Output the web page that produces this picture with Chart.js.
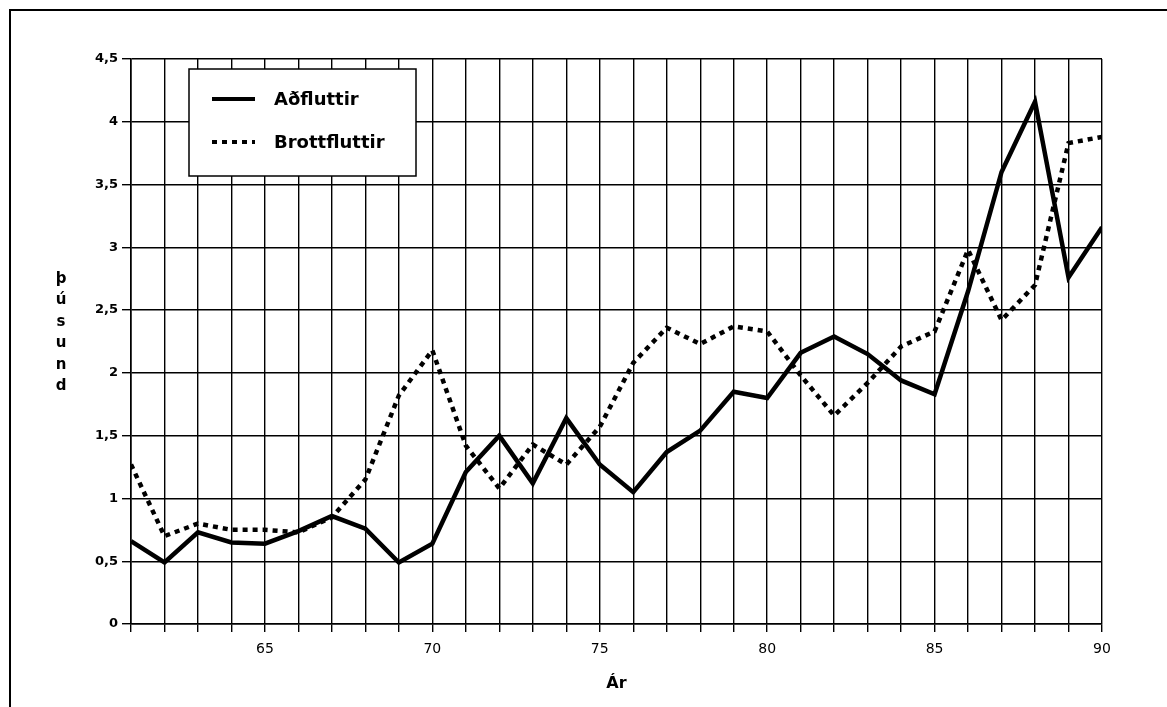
<!DOCTYPE html>
<html lang="is">
<head>
<meta charset="UTF-8">
<title>Aðfluttir og brottfluttir</title>
<script src="https://cdn.jsdelivr.net/npm/chart.js"></script>
<style>
  body { margin: 0; background: #fff; overflow: hidden; }
  #frame { position: absolute; left: 9px; top: 9px; width: 2000px; height: 2000px; border: 2px solid #000; }
  #wrap { position: absolute; left: 0; top: 0; width: 1167px; height: 707px; }
</style>
</head>
<body>
<div id="frame"></div>
<div id="wrap"><canvas id="myChart" width="1167" height="707"></canvas></div>

<script>
    // Ár (x-ás)
    var years = [61, 62, 63, 64, 65, 66, 67, 68, 69, 70,
                 71, 72, 73, 74, 75, 76, 77, 78, 79, 80,
                 81, 82, 83, 84, 85, 86, 87, 88, 89, 90];

    // þúsund
    var adfluttir = [0.66, 0.49, 0.73, 0.65, 0.64, 0.74, 0.86, 0.76, 0.49, 0.64,
                     1.21, 1.50, 1.12, 1.64, 1.27, 1.05, 1.37, 1.54, 1.85, 1.80,
                     2.16, 2.29, 2.15, 1.94, 1.83, 2.65, 3.60, 4.16, 2.76, 3.16];

    var brottfluttir = [1.27, 0.70, 0.80, 0.75, 0.75, 0.73, 0.85, 1.15, 1.82, 2.18,
                        1.42, 1.08, 1.43, 1.27, 1.57, 2.08, 2.36, 2.23, 2.37, 2.33,
                        1.98, 1.66, 1.92, 2.21, 2.33, 2.98, 2.42, 2.70, 3.83, 3.88];

    var yTitle = 'þúsund';
    var xTitle = 'Ár';

    var FONT = '"DejaVu Sans", Verdana, sans-serif';

    function pts(vals) {
        return years.map(function (yr, i) { return { x: yr, y: vals[i] }; });
    }

    // stafir lóðrétta ásheitisins, hver undir öðrum
    var yTitlePlugin = {
        id: 'yTitle',
        afterDraw: function (chart) {
            var c = chart.ctx;
            c.save();
            c.fillStyle = '#000';
            c.font = 'bold 15px ' + FONT;
            c.textAlign = 'center';
            c.textBaseline = 'middle';
            var chars = yTitle.split('');
            for (var i = 0; i < chars.length; i++) {
                c.fillText(chars[i], 61, 279 + i * 21.5);
            }
            c.restore();
        }
    };

    // skýringarkassi inni í teiknisvæðinu
    var legendPlugin = {
        id: 'boxLegend',
        afterDraw: function (chart) {
            var c = chart.ctx;
            var ds = chart.data.datasets;
            c.save();
            c.fillStyle = '#fff';
            c.fillRect(189, 69, 227, 107);
            c.strokeStyle = '#000';
            c.lineWidth = 1.5;
            c.strokeRect(189, 69, 227, 107);
            c.font = 'bold 18px ' + FONT;
            c.textBaseline = 'middle';
            c.fillStyle = '#000';
            var rows = [99, 142];
            for (var i = 0; i < ds.length; i++) {
                c.beginPath();
                c.lineWidth = 4;
                c.setLineDash(ds[i].borderDash || []);
                c.moveTo(212, rows[i]);
                c.lineTo(255, rows[i]);
                c.stroke();
                c.setLineDash([]);
                c.fillText(ds[i].label, 274, rows[i] + 1);
            }
            c.restore();
        }
    };

    var ctx = document.getElementById('myChart').getContext('2d');

    var myChart = new Chart(ctx, {
        type: 'line',
        data: {
            datasets: [{
                label: 'Aðfluttir',
                data: pts(adfluttir),
                borderColor: '#000',
                borderWidth: 4.5,
                pointRadius: 0,
                fill: false,
                tension: 0
            }, {
                label: 'Brottfluttir',
                data: pts(brottfluttir),
                borderColor: '#000',
                borderWidth: 4.5,
                borderDash: [5, 5],
                pointRadius: 0,
                fill: false,
                tension: 0
            }]
        },
        options: {
            responsive: false,
            animation: false,
            layout: { padding: { left: 0, top: 59, right: 65, bottom: 0 } },
            plugins: {
                legend: { display: false },
                tooltip: { enabled: false }
            },
            scales: {
                x: {
                    type: 'linear',
                    min: 61,
                    max: 90,
                    afterFit: function (s) { s.height = 83; },
                    ticks: {
                        stepSize: 1,
                        autoSkip: false,
                        maxRotation: 0,
                        color: '#000',
                        padding: 9,
                        font: { family: FONT, size: 14 },
                        callback: function (v) { return v % 5 === 0 ? String(v) : ''; }
                    },
                    grid: { color: '#000', lineWidth: 1.4, tickLength: 8 },
                    border: { color: '#000', width: 1.6 },
                    title: {
                        display: true,
                        text: xTitle,
                        color: '#000',
                        font: { family: FONT, size: 16, weight: 'bold' },
                        padding: { top: 0, bottom: 14 }
                    }
                },
                y: {
                    min: 0,
                    max: 4.5,
                    afterFit: function (s) { s.width = 131; },
                    ticks: {
                        stepSize: 0.5,
                        color: '#000',
                        padding: 4,
                        font: { family: FONT, size: 13, weight: 'bold' },
                        callback: function (v) { return String(v).replace('.', ','); }
                    },
                    grid: { color: '#000', lineWidth: 1.4, tickLength: 9 },
                    border: { color: '#000', width: 1.6 }
                }
            }
        },
        plugins: [yTitlePlugin, legendPlugin]
    });
</script>
</body>
</html>
